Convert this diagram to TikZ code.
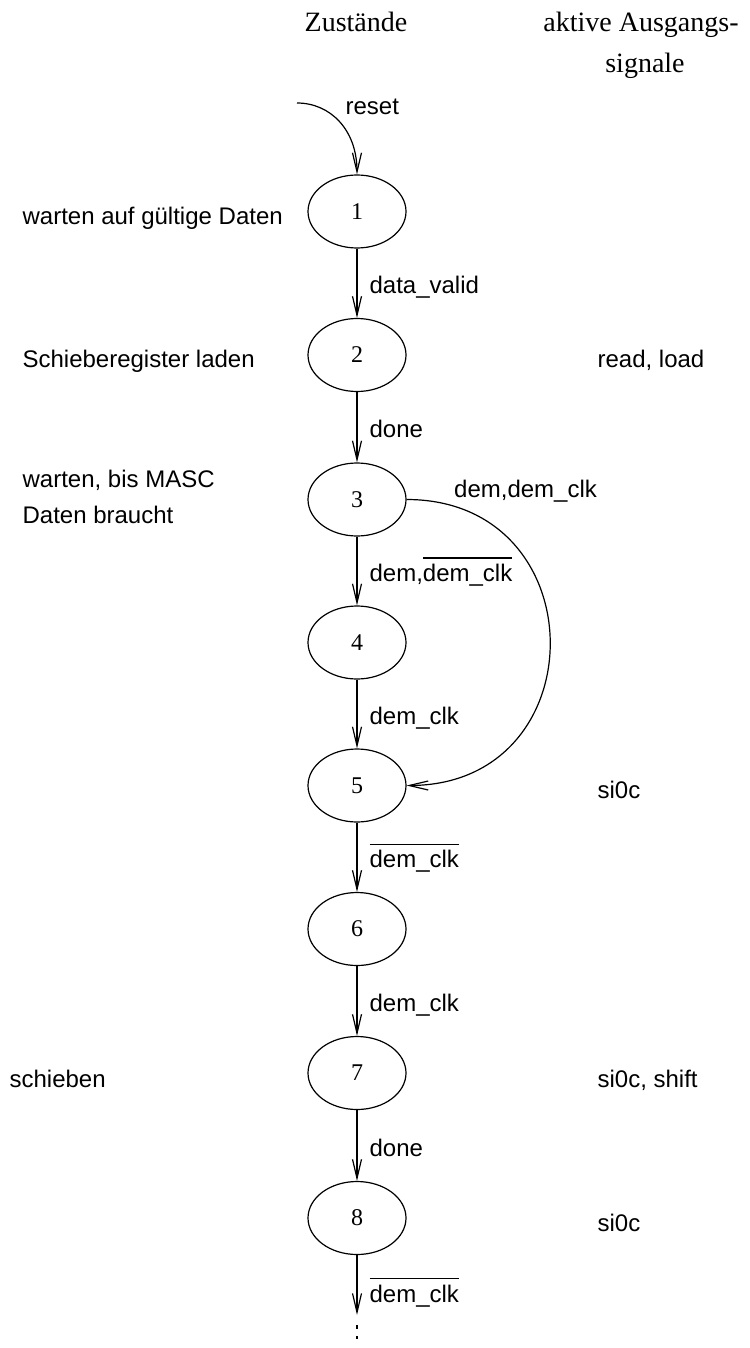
\documentclass[tikz,border=0pt]{standalone}
\usepackage{fontspec}
\setmainfont{Liberation Serif}
\newfontfamily\lsans{Liberation Sans}
\usetikzlibrary{shapes.geometric,arrows.meta}
\newcommand\ovl[1]{\setbox0=\hbox{#1}\rlap{\raise 11.5pt\hbox{\vrule width \wd0 height 0.6pt depth 0pt}}\box0}
\begin{document}
\begin{tikzpicture}[x=0.5pt,y=-0.5pt, line width=0.6pt,
  state/.style={ellipse, draw, minimum width=49pt, minimum height=36.5pt, inner sep=0pt, font=\fontsize{12}{14}\selectfont},
  arr/.style={-{Straight Barb[length=9.5pt,width=4.5pt]}},
  lbl/.style={anchor=base west, inner sep=0pt, font=\lsans\fontsize{12}{14}\selectfont},
  elbl/.style={lbl, xshift=6pt, yshift=-5.25pt},
  head/.style={anchor=base, inner sep=0pt, font=\fontsize{14}{17}\selectfont}]
\useasboundingbox (0,0) rectangle (749,1348);

% headers
\node[head] (h1) at (356,31.5) {Zustände};
\node[head] (h2) at (641,31.5) {aktive Ausgangs-};
\node[head] (h3) at (645,72.5) {signale};

% states
\node[state] (s1) at (357,211.5) {1};
\node[state] (s2) at (357,355) {2};
\node[state] (s3) at (357,499.5) {3};
\node[state] (s4) at (357,642.5) {4};
\node[state] (s5) at (357,785.5) {5};
\node[state] (s6) at (357,929) {6};
\node[state] (s7) at (357,1073) {7};
\node[state] (s8) at (357,1218) {8};

% reset
\coordinate (rst) at (297,103);
\draw[arr] (rst) node[lbl, xshift=24pt, yshift=-6pt] (lreset) {reset}
  .. controls +(33,0) and +(0,-45) .. (s1.north);

% transitions
\draw[arr] (s1) -- node[elbl] (l12) {data\_valid} (s2);
\draw[arr] (s2) -- node[elbl] (l23) {done} (s3);
\draw[arr] (s3) -- node[elbl] (l34) {dem,\ovl{dem\_clk}} (s4);
\draw[arr] (s4) -- node[elbl] (l45) {dem\_clk} (s5);
\draw[arr] (s5) -- node[elbl] (l56) {\ovl{dem\_clk}} (s6);
\draw[arr] (s6) -- node[elbl] (l67) {dem\_clk} (s7);
\draw[arr] (s7) -- node[elbl] (l78) {done} (s8);
\draw[arr] (s3.east) node[lbl, xshift=23.5pt, yshift=1pt] (l35) {dem,dem\_clk}
  .. controls +(191,0) and +(191,0) .. (s5.east);
\coordinate (e8) at (357,1315);
\draw[arr] (s8) -- node[elbl, yshift=-3.35pt] (l8e) {\ovl{dem\_clk}} (e8);
\draw (357,1325) -- (357,1329);
\draw (357,1336) -- (357,1339);

% descriptions
\node[lbl] (t1) at (22,224.5) {warten auf gültige Daten};
\node[lbl] (t2) at (22,367.5) {Schieberegister laden};
\node[lbl] (t3a) at (22,487) {warten, bis MASC};
\node[lbl] (t3b) at (22,523) {Daten braucht};
\node[lbl] (t7) at (9,1087) {schieben};

% outputs
\node[lbl] (o2) at (597,367) {read, load};
\node[lbl] (o5) at (597,798.5) {si0c};
\node[lbl] (o7) at (597,1087) {si0c, shift};
\node[lbl] (o8) at (597,1231) {si0c};
\end{tikzpicture}
\end{document}
